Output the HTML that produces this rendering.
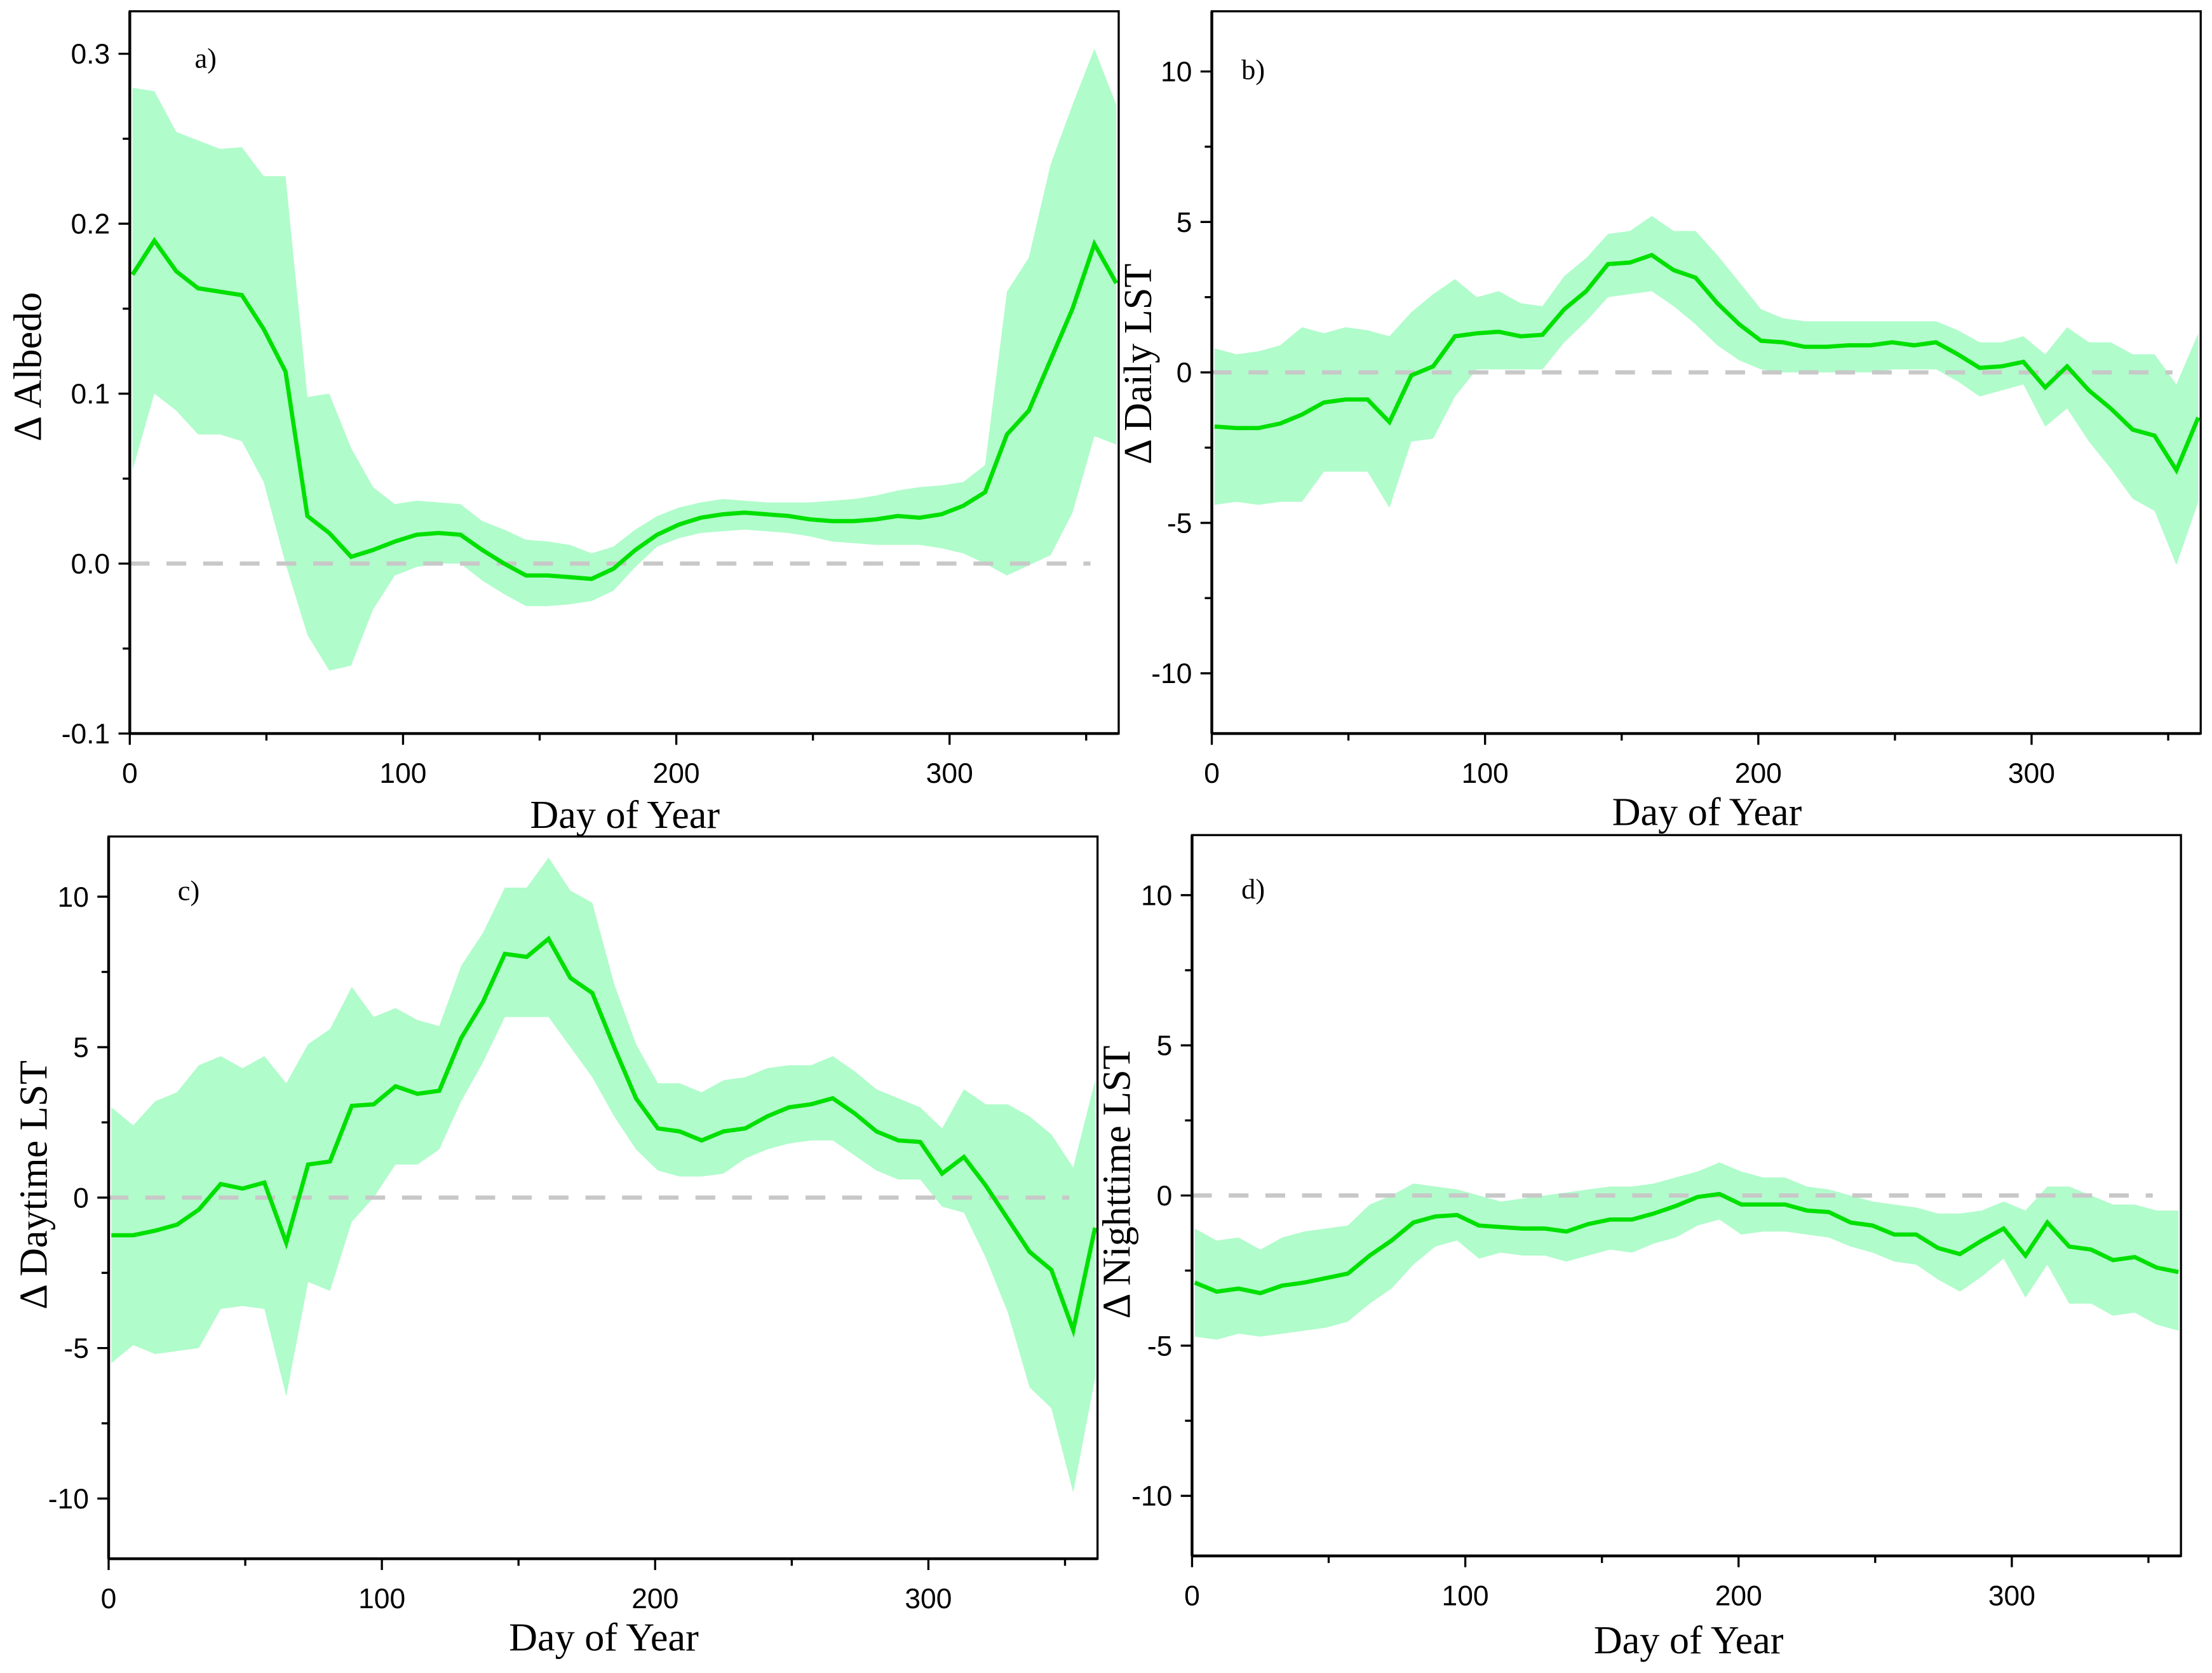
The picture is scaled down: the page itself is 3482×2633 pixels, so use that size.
<!DOCTYPE html>
<html><head><meta charset="utf-8"><style>
html,body{margin:0;padding:0;background:#fff;}
svg{display:block;}
.tk{font-family:"Liberation Sans",sans-serif;font-size:20px;fill:#000;}
.tt{font-family:"Liberation Serif",serif;font-size:28px;fill:#000;}
.pl{font-family:"Liberation Serif",serif;font-size:20px;fill:#000;}
</style></head><body>
<svg id="fig" width="3482" height="2633" viewBox="0 0 1568 1186" preserveAspectRatio="none" xmlns="http://www.w3.org/2000/svg"></svg>
<script>
const days = Array.from({length:46},(_,i)=>1+8*i);
const aMean=[0.17,0.19,0.172,0.162,0.16,0.158,0.138,0.113,0.028,0.018,0.004,0.008,0.013,0.017,0.018,0.017,0.008,0.0,-0.007,-0.007,-0.008,-0.009,-0.003,0.008,0.017,0.023,0.027,0.029,0.03,0.029,0.028,0.026,0.025,0.025,0.026,0.028,0.027,0.029,0.034,0.042,0.076,0.09,0.12,0.15,0.188,0.165];
const aUp=[0.28,0.278,0.254,0.249,0.244,0.245,0.228,0.228,0.098,0.1,0.068,0.045,0.035,0.037,0.036,0.035,0.025,0.02,0.014,0.013,0.011,0.006,0.01,0.02,0.028,0.033,0.036,0.038,0.037,0.036,0.036,0.036,0.037,0.038,0.04,0.043,0.045,0.046,0.048,0.058,0.16,0.18,0.235,0.27,0.303,0.27];
const aLo=[0.055,0.1,0.09,0.076,0.076,0.072,0.048,0.0,-0.042,-0.063,-0.06,-0.027,-0.007,-0.002,0.0,0.0,-0.01,-0.018,-0.025,-0.025,-0.024,-0.022,-0.016,-0.002,0.01,0.015,0.018,0.019,0.02,0.019,0.018,0.016,0.013,0.012,0.011,0.011,0.011,0.009,0.006,0.0,-0.007,-0.001,0.005,0.03,0.075,0.07];
const bMean=[-1.8,-1.85,-1.85,-1.7,-1.4,-1.0,-0.9,-0.9,-1.65,-0.1,0.2,1.2,1.3,1.35,1.2,1.25,2.1,2.7,3.6,3.65,3.9,3.4,3.15,2.3,1.6,1.05,1.0,0.85,0.85,0.9,0.9,1.0,0.9,1.0,0.6,0.15,0.2,0.35,-0.5,0.2,-0.6,-1.2,-1.9,-2.1,-3.25,-1.5];
const bUp=[0.8,0.6,0.7,0.9,1.5,1.3,1.5,1.4,1.2,2.0,2.6,3.1,2.5,2.7,2.3,2.2,3.2,3.8,4.6,4.7,5.2,4.7,4.7,3.9,3.0,2.1,1.8,1.7,1.7,1.7,1.7,1.7,1.7,1.7,1.4,1.0,1.0,1.2,0.6,1.5,1.0,1.0,0.6,0.6,-0.4,1.3];
const bLo=[-4.4,-4.3,-4.4,-4.3,-4.3,-3.3,-3.3,-3.3,-4.5,-2.3,-2.2,-0.8,0.1,0.1,0.1,0.1,1.0,1.7,2.5,2.6,2.7,2.2,1.6,0.9,0.4,0.1,0.0,0.0,0.0,0.0,0.0,0.1,0.1,0.1,-0.3,-0.8,-0.6,-0.4,-1.8,-1.2,-2.3,-3.2,-4.2,-4.6,-6.4,-4.3];
const cMean=[-1.25,-1.25,-1.1,-0.9,-0.4,0.45,0.3,0.5,-1.5,1.1,1.2,3.05,3.1,3.7,3.45,3.55,5.3,6.5,8.1,8.0,8.6,7.3,6.8,5.0,3.3,2.3,2.2,1.9,2.2,2.3,2.7,3.0,3.1,3.3,2.8,2.2,1.9,1.85,0.8,1.35,0.4,-0.7,-1.8,-2.4,-4.4,-1.0];
const cUp=[3.0,2.4,3.2,3.5,4.4,4.7,4.3,4.7,3.8,5.1,5.6,7.0,6.0,6.3,5.9,5.7,7.7,8.8,10.3,10.3,11.3,10.2,9.8,7.1,5.1,3.8,3.8,3.5,3.9,4.0,4.3,4.4,4.4,4.7,4.2,3.6,3.3,3.0,2.3,3.6,3.1,3.1,2.7,2.1,1.0,3.9];
const cLo=[-5.5,-4.9,-5.2,-5.1,-5.0,-3.7,-3.6,-3.7,-6.6,-2.8,-3.1,-0.8,0.0,1.1,1.1,1.6,3.2,4.5,6.0,6.0,6.0,5.0,4.0,2.7,1.6,0.9,0.7,0.7,0.8,1.3,1.6,1.8,1.9,1.9,1.4,0.9,0.6,0.6,-0.3,-0.5,-2.0,-3.8,-6.3,-7.0,-9.8,-6.0];
const dMean=[-2.9,-3.2,-3.1,-3.25,-3.0,-2.9,-2.75,-2.6,-2.0,-1.5,-0.9,-0.7,-0.65,-1.0,-1.05,-1.1,-1.1,-1.2,-0.95,-0.8,-0.8,-0.6,-0.35,-0.05,0.05,-0.3,-0.3,-0.3,-0.5,-0.55,-0.9,-1.0,-1.3,-1.3,-1.75,-1.95,-1.5,-1.1,-2.0,-0.9,-1.7,-1.8,-2.15,-2.05,-2.4,-2.55];
const dUp=[-1.1,-1.5,-1.4,-1.8,-1.4,-1.2,-1.1,-1.0,-0.3,0.0,0.4,0.3,0.2,0.0,-0.2,-0.1,0.0,0.1,0.2,0.3,0.3,0.4,0.6,0.8,1.1,0.8,0.6,0.6,0.3,0.2,0.0,-0.2,-0.3,-0.4,-0.6,-0.6,-0.5,-0.2,-0.5,0.3,0.3,0.0,-0.3,-0.3,-0.5,-0.5];
const dLo=[-4.7,-4.8,-4.6,-4.7,-4.6,-4.5,-4.4,-4.2,-3.6,-3.1,-2.3,-1.7,-1.5,-2.1,-1.9,-2.0,-2.0,-2.2,-2.0,-1.8,-1.9,-1.6,-1.4,-1.0,-0.8,-1.3,-1.2,-1.2,-1.3,-1.4,-1.7,-1.9,-2.2,-2.3,-2.8,-3.2,-2.7,-2.1,-3.4,-2.3,-3.6,-3.6,-4.0,-3.9,-4.3,-4.5];
const xTicks=[0,100,200,300];
const aYTicks=[-0.1,0.0,0.1,0.2,0.3];
const aYLabels=["-0.1","0.0","0.1","0.2","0.3"];
const lstYTicks=[-10,-5,0,5,10];
const lstYLabels=["-10","-5","0","5","10"];

const NS="http://www.w3.org/2000/svg";
const svg=document.getElementById('fig');
function mk(tag,attrs,parent){const e=document.createElementNS(NS,tag);for(const k in attrs)e.setAttribute(k,attrs[k]);(parent||svg).appendChild(e);return e;}

const panels=[
 {id:'a',x0:92,x1:793,y0:8,y1:520,ymin:-0.1,ymax:0.325,mean:aMean,up:aUp,lo:aLo,yt:aYTicks,yl:aYLabels,minor:0.05,title:'Δ Albedo',tx:20,ty:260,xlx:443,xly:587,lab:'a)',lx:138,ly:48},
 {id:'b',x0:859,x1:1560,y0:8,y1:520,ymin:-12,ymax:12,mean:bMean,up:bUp,lo:bLo,yt:lstYTicks,yl:lstYLabels,minor:2.5,title:'Δ Daily LST',tx:807,ty:258,xlx:1210,xly:585,lab:'b)',lx:880,ly:56},
 {id:'c',x0:77,x1:778,y0:593,y1:1105,ymin:-12,ymax:12,mean:cMean,up:cUp,lo:cLo,yt:lstYTicks,yl:lstYLabels,minor:2.5,title:'Δ Daytime LST',tx:24,ty:840,xlx:428,xly:1170,lab:'c)',lx:126,ly:638},
 {id:'d',x0:845,x1:1546,y0:592,y1:1103,ymin:-12,ymax:12,mean:dMean,up:dUp,lo:dLo,yt:lstYTicks,yl:lstYLabels,minor:2.5,title:'Δ Nighttime LST',tx:792,ty:838,xlx:1197,xly:1172,lab:'d)',lx:880,ly:637}
];
panels.forEach(p=>{
 const g=mk('g',{});
 
 
 const xs=d=>p.x0+d*1.937;
 const ys=v=>p.y1-(v-p.ymin)/(p.ymax-p.ymin)*(p.y1-p.y0);
 const cp=mk('clipPath',{id:'clip'+p.id},g);
 mk('rect',{x:p.x0,y:p.y0,width:p.x1-p.x0,height:p.y1-p.y0},cp);
 let d='M'+days.map((dy,i)=>xs(dy)+','+ys(p.up[i])).join('L');
 for(let i=days.length-1;i>=0;i--) d+='L'+xs(days[i])+','+ys(p.lo[i]);
 const band=mk('path',{d:d+'Z',fill:'#b0fccb','clip-path':'url(#clip'+p.id+')'},g);
 
 
 const zl=mk('line',{x1:p.x0,x2:p.x1-20,y1:ys(0),y2:ys(0),stroke:'#c8c8c8','stroke-width':3,'stroke-dasharray':'14,12'},g);
 
 
 const ln=mk('polyline',{points:days.map((dy,i)=>xs(dy)+','+ys(p.mean[i])).join(' '),fill:'none',stroke:'#00e000','stroke-width':3,'clip-path':'url(#clip'+p.id+')'},g);
 
 
 const fr=mk('rect',{x:p.x0,y:p.y0,width:p.x1-p.x0,height:p.y1-p.y0,fill:'none',stroke:'#000','stroke-width':1.5},g);
 
 
 mk('line',{x1:p.x0,x2:p.x0,y1:p.y0,y2:p.y1,stroke:'#000','stroke-width':2},g);
 mk('line',{x1:p.x0,x2:p.x1,y1:p.y1,y2:p.y1,stroke:'#000','stroke-width':2},g);
 for(let t=0;t<=350;t+=50){const X=xs(t);mk('line',{x1:X,x2:X,y1:p.y1,y2:p.y1+(t%100==0?8:5),stroke:'#000','stroke-width':1.5},g);}
 xTicks.forEach(t=>{const e=mk('text',{x:xs(t),y:p.y1+35,'text-anchor':'middle',class:'tk'},g);e.textContent=t;
  
  });
 const start=p.yt[0];
 for(let v=start;v<=p.ymax+1e-9;v+=p.minor){const vr=Math.round(v/p.minor)*p.minor;const Y=ys(vr);const maj=p.yt.some(t=>Math.abs(t-vr)<1e-6);mk('line',{x1:p.x0-(maj?8:5),x2:p.x0,y1:Y,y2:Y,stroke:'#000','stroke-width':1.5},g);}
 p.yt.forEach((t,i)=>{const e=mk('text',{x:p.x0-14,y:ys(t)+7,'text-anchor':'end',class:'tk'},g);e.textContent=p.yl[i];
  
  });
 const xl=mk('text',{x:p.xlx,y:p.xly,'text-anchor':'middle',class:'tt'},g);xl.textContent='Day of Year';
 
 
 const yl=mk('text',{x:p.tx,y:p.ty,'text-anchor':'middle',class:'tt',transform:'rotate(-90 '+p.tx+' '+p.ty+')',dy:'9'},g);yl.textContent=p.title;
 
 
 const lb=mk('text',{x:p.lx,y:p.ly,class:'pl'},g);lb.textContent=p.lab;
 
 
});
</script>
</body></html>
